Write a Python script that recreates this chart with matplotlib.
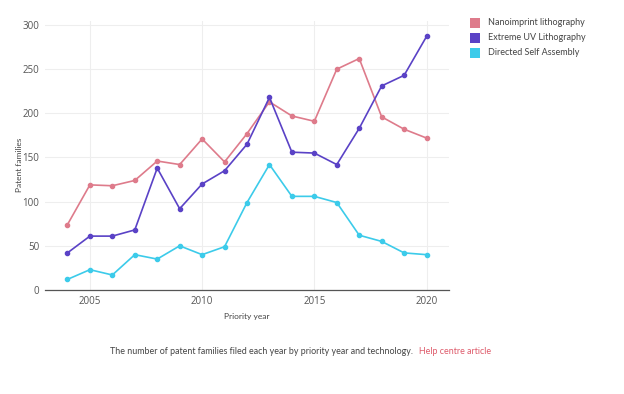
import matplotlib
matplotlib.use("Agg")
import matplotlib.pyplot as plt
from matplotlib.patches import Rectangle

years = list(range(2004, 2021))
nanoimprint = [74, 119, 118, 124, 146, 142, 171, 145, 177, 213, 197, 191, 250, 262, 196, 182, 172]
euv = [42, 61, 61, 68, 138, 92, 120, 135, 165, 218, 156, 155, 142, 183, 231, 243, 287]
dsa = [12, 23, 17, 40, 35, 50, 40, 49, 99, 142, 106, 106, 99, 62, 55, 42, 40]
series_names = ["Nanoimprint lithography", "Extreme UV Lithography", "Directed Self Assembly"]
colors = ["#de7b8b", "#5a42c6", "#3ccbea"]
yticks = [0, 50, 100, 150, 200, 250, 300]
xticks = [2005, 2010, 2015, 2020]

W, H = 624, 394
fig = plt.figure(figsize=(W / 100, H / 100), dpi=100)
ax = fig.add_axes([45 / W, 1 - 290 / H, (449 - 45) / W, (290 - 21) / H])

for vals, c in zip([nanoimprint, euv, dsa], colors):
    ax.plot(years, vals, color=c, lw=1.2, marker="o", ms=3.0, zorder=3)

ax.set_xlim(2003, 2021)
ax.set_ylim(0, 304.5)
ax.set_yticks(yticks)
ax.set_xticks(xticks)
ax.grid(True, color="#eeeeee", lw=0.8)
ax.set_axisbelow(True)
for s in ["top", "right", "left"]:
    ax.spines[s].set_visible(False)
ax.spines["bottom"].set_color("#555555")
ax.spines["bottom"].set_linewidth(0.9)
ax.tick_params(length=0, labelsize=7, colors="#555555", pad=4)
for lab in ax.get_xticklabels() + ax.get_yticklabels():
    lab.set_fontfamily("Open Sans")

fig.text(20 / W, 1 - 165 / H, "Patent families", rotation=90, ha="center", va="center",
         fontsize=6, color="#444444", family="Lato")
fig.text(247 / W, 1 - 317 / H, "Priority year", ha="center", va="center",
         fontsize=6, color="#444444", family="Lato")

ly = [22.7, 37.5, 52.7]
for name, c, y in zip(series_names, colors, ly):
    fig.patches.append(Rectangle((470 / W, 1 - (y + 5) / H), 10 / W, 10 / H,
                                 transform=fig.transFigure, facecolor=c, edgecolor="none"))
    fig.text(488 / W, 1 - y / H, name, ha="left", va="center", fontsize=6.5,
             color="#444444", family="Lato")

t1 = fig.text(110 / W, 1 - 351 / H,
              "The number of patent families filed each year by priority year and technology.",
              ha="left", va="center", fontsize=6.4, color="#444444", family="Lato")
fig.canvas.draw()
bb = t1.get_window_extent(renderer=fig.canvas.get_renderer())
fig.text((bb.x1 + 6) / W, 1 - 351 / H, "Help centre article", ha="left", va="center",
         fontsize=6.4, color="#de5a6a", family="Lato")

fig.savefig("out.png", dpi=100, facecolor="white")
